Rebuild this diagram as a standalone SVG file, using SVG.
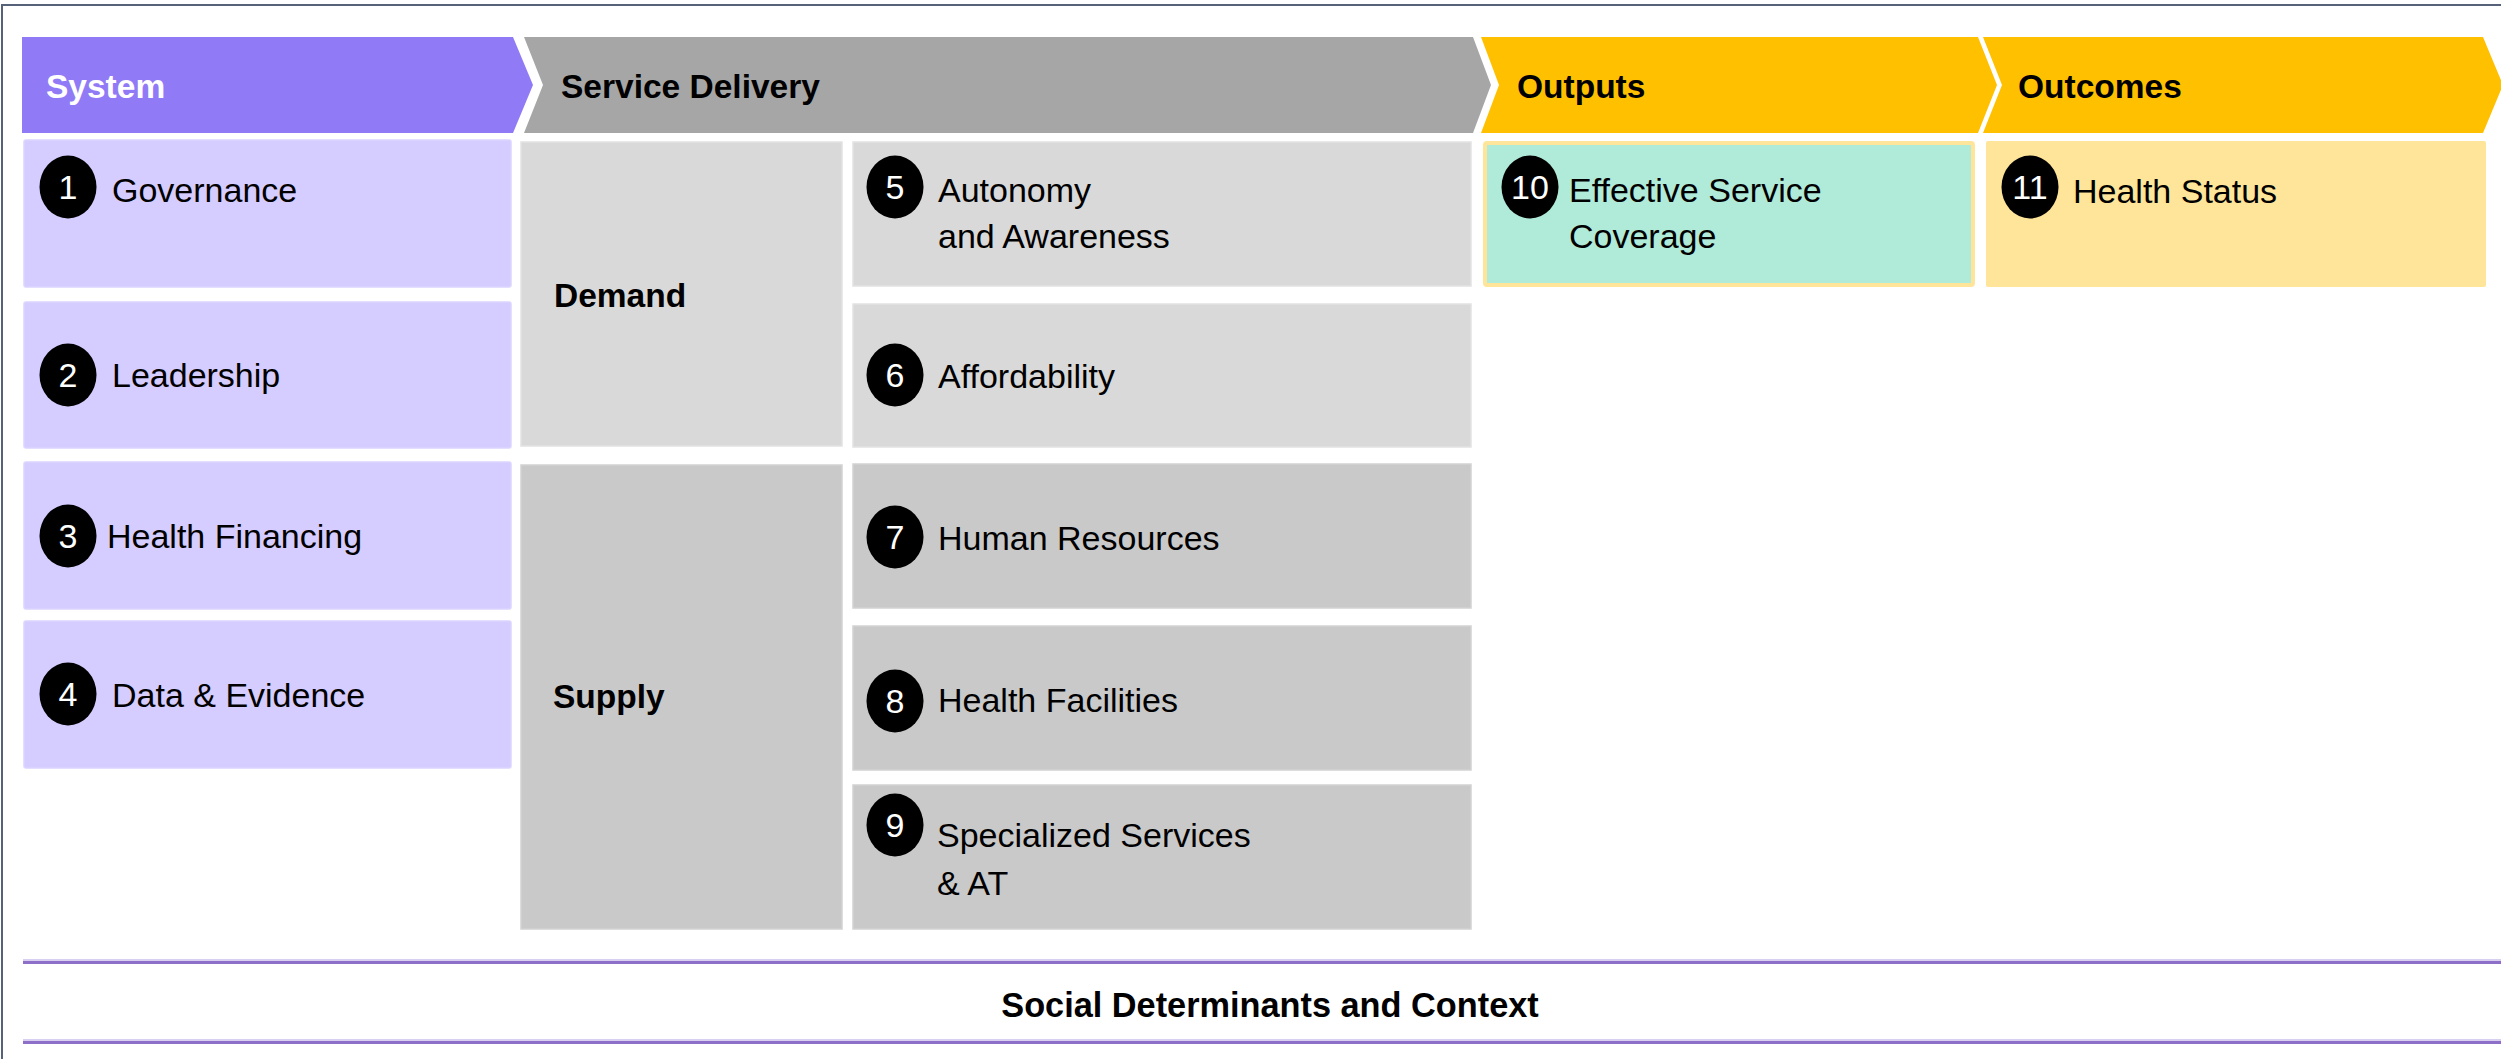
<svg xmlns="http://www.w3.org/2000/svg" width="2501" height="1059" viewBox="0 0 2501 1059">
<style>
.hdr{font-family:"Liberation Sans",Arial,sans-serif;font-weight:bold;font-size:33.5px;fill:#000}
.lbl{font-family:"Liberation Sans",Arial,sans-serif;font-size:34px;fill:#000}
.num{font-family:"Liberation Sans",Arial,sans-serif;font-size:34px;fill:#fff;text-anchor:middle}
.sys{fill:#D5CCFF;stroke:#DCD5FF;stroke-width:1.5}
.dem{fill:#D9D9D9;stroke:#E2E2E2;stroke-width:1.5}
.sup{fill:#C9C9C9;stroke:#D2D2D2;stroke-width:1.5}
.badge{fill:#000}
.rule{stroke:#8D6FC9;stroke-width:3}
.ruleHi{stroke:#CDBFEC;stroke-width:1.5}
</style>
<rect x="0" y="0" width="2501" height="1059" fill="#fff"/>
<rect x="2" y="5" width="2700" height="1200" fill="none" stroke="#56617A" stroke-width="2"/>

<g id="header-system">
<polygon points="22,37 513,37 533,85 513,133 22,133" fill="#917AF6"/>
<text class="hdr" x="46" y="98" style="fill:#fff">System</text>
</g>
<g id="header-service-delivery">
<polygon points="524,37 1473,37 1491,85 1473,133 524,133 543,85" fill="#A6A6A6"/>
<text class="hdr" x="561" y="98">Service Delivery</text>
</g>
<g id="header-outputs">
<polygon points="1481,37 1978,37 1997,85 1978,133 1481,133 1499,85" fill="#FFC000"/>
<text class="hdr" x="1517" y="98">Outputs</text>
</g>
<g id="header-outcomes">
<polygon points="1983,37 2483,37 2503,85 2483,133 1983,133 2002,85" fill="#FFC000"/>
<text class="hdr" x="2018" y="98">Outcomes</text>
</g>

<g id="node-1">
<rect class="sys" x="24" y="140" width="487" height="147" rx="2"/>
<ellipse class="badge" cx="68" cy="187" rx="28.5" ry="31.5"/>
<text class="num" x="68" y="199">1</text>
<text class="lbl" x="112" y="202">Governance</text>
</g>
<g id="node-2">
<rect class="sys" x="24" y="302" width="487" height="146" rx="2"/>
<ellipse class="badge" cx="68" cy="375" rx="28.5" ry="31.5"/>
<text class="num" x="68" y="387">2</text>
<text class="lbl" x="112" y="387">Leadership</text>
</g>
<g id="node-3">
<rect class="sys" x="24" y="462" width="487" height="147" rx="2"/>
<ellipse class="badge" cx="68" cy="536" rx="28.5" ry="31.5"/>
<text class="num" x="68" y="548">3</text>
<text class="lbl" x="107" y="548">Health Financing</text>
</g>
<g id="node-4">
<rect class="sys" x="24" y="621" width="487" height="147" rx="2"/>
<ellipse class="badge" cx="68" cy="694" rx="28.5" ry="31.5"/>
<text class="num" x="68" y="706">4</text>
<text class="lbl" x="112" y="707">Data &amp; Evidence</text>
</g>

<g id="group-demand">
<rect class="dem" x="521" y="142" width="321" height="304"/>
<text class="hdr" x="554" y="307">Demand</text>
</g>
<g id="group-supply">
<rect class="sup" x="521" y="465" width="321" height="464"/>
<text class="hdr" x="553" y="708">Supply</text>
</g>

<g id="node-5">
<rect class="dem" x="853" y="142" width="618" height="144"/>
<ellipse class="badge" cx="895" cy="187" rx="28.5" ry="31.5"/>
<text class="num" x="895" y="199">5</text>
<text class="lbl" x="938" y="202">Autonomy</text>
<text class="lbl" x="938" y="248">and Awareness</text>
</g>
<g id="node-6">
<rect class="dem" x="853" y="304" width="618" height="143"/>
<ellipse class="badge" cx="895" cy="375" rx="28.5" ry="31.5"/>
<text class="num" x="895" y="387">6</text>
<text class="lbl" x="938" y="388">Affordability</text>
</g>
<g id="node-7">
<rect class="sup" x="853" y="464" width="618" height="144"/>
<ellipse class="badge" cx="895" cy="537" rx="28.5" ry="31.5"/>
<text class="num" x="895" y="549">7</text>
<text class="lbl" x="938" y="550">Human Resources</text>
</g>
<g id="node-8">
<rect class="sup" x="853" y="626" width="618" height="144"/>
<ellipse class="badge" cx="895" cy="701" rx="28.5" ry="31.5"/>
<text class="num" x="895" y="713">8</text>
<text class="lbl" x="938" y="712">Health Facilities</text>
</g>
<g id="node-9">
<rect class="sup" x="853" y="785" width="618" height="144"/>
<ellipse class="badge" cx="895" cy="825" rx="28.5" ry="31.5"/>
<text class="num" x="895" y="837">9</text>
<text class="lbl" x="937" y="847">Specialized Services</text>
<text class="lbl" x="937" y="895">&amp; AT</text>
</g>

<g id="node-10">
<rect x="1485" y="143" width="488" height="142" rx="2" fill="#B0EAD8" stroke="#FFE599" stroke-width="4"/>
<ellipse class="badge" cx="1530" cy="187" rx="28.5" ry="31.5"/>
<text class="num" x="1530" y="199">10</text>
<text class="lbl" x="1569" y="202">Effective Service</text>
<text class="lbl" x="1569" y="248">Coverage</text>
</g>
<g id="node-11">
<rect x="1986" y="141" width="500" height="146" rx="2" fill="#FFE599"/>
<ellipse class="badge" cx="2030" cy="187" rx="28.5" ry="31.5"/>
<text class="num" x="2030" y="199">11</text>
<text class="lbl" x="2073" y="203">Health Status</text>
</g>

<g id="context">
<line class="ruleHi" x1="23" y1="960" x2="2501" y2="960"/>
<line class="rule" x1="23" y1="962.5" x2="2501" y2="962.5"/>
<line class="ruleHi" x1="23" y1="1040" x2="2501" y2="1040"/>
<line class="rule" x1="23" y1="1042.5" x2="2501" y2="1042.5"/>
<text class="hdr" x="1270" y="1017" text-anchor="middle" style="font-size:34.3px">Social Determinants and Context</text>
</g>
<g id="connectors"></g>
</svg>
